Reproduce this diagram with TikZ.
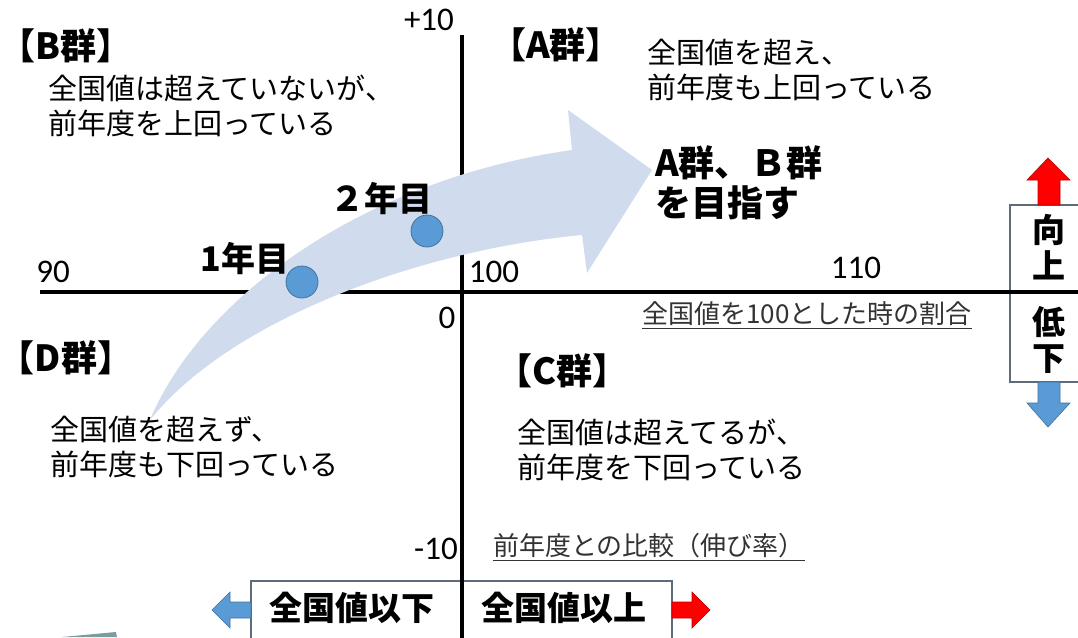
\documentclass[tikz,border=0pt]{standalone}
\usepackage{fontspec}
\setmainfont{Noto Sans CJK JP}
\newfontfamily\numfont{Carlito}
\definecolor{arrowfill}{HTML}{D0DCEE}
\definecolor{dotblue}{HTML}{5B9BD5}
\definecolor{dotedge}{HTML}{41719C}
\definecolor{boxedge}{HTML}{5F6B7A}
\definecolor{redfill}{HTML}{FF0000}
\definecolor{rededge}{HTML}{C00000}
\definecolor{labelgray}{HTML}{333333}
\definecolor{sliver}{HTML}{7A9E9F}
\begin{document}
\begin{tikzpicture}[x=1pt,y=-1pt,
  axisline/.style={line width=3.5pt,black},
  sidebox/.style={draw=boxedge,line width=1.2pt,fill=white},
  redarrow/.style={fill=redfill,draw=rededge,line width=0.6pt},
  bluearrow/.style={fill=dotblue,draw=dotedge,line width=0.6pt},
  yeardot/.style={circle,fill=dotblue,draw=dotedge,line width=0.8pt,minimum size=32pt,inner sep=0pt},
  grp/.style={inner sep=0pt,font=\fontsize{36}{40}\selectfont\bfseries},
  desc/.style={inner sep=0pt,anchor=west,align=left,font=\fontsize{29}{35}\selectfont},
  num/.style={inner sep=0pt,font=\numfont\fontsize{33}{38}\selectfont},
  lab/.style={inner sep=0pt,text=labelgray,font=\fontsize{26}{30}\selectfont},
  uline/.style={labelgray,line width=1pt},
  boxtxt/.style={inner sep=0pt,align=center,font=\fontsize{33}{36}\selectfont\bfseries},
  yr/.style={inner sep=0pt,font=\fontsize{34}{38}\selectfont\bfseries},
  goal/.style={inner sep=0pt,anchor=west,align=left,font=\fontsize{36}{40}\selectfont\bfseries}]
\useasboundingbox (0,0) rectangle (1078,637);
\clip (0,0) rectangle (1078,637);
\fill[white] (0,0) rectangle (1078,637);

% side boxes
\draw[sidebox] (1010,205) rectangle (1095,292);
\draw[sidebox] (1010,292) rectangle (1095,382);
\draw[sidebox] (251,581) rectangle (462,650);
\draw[sidebox] (462,581) rectangle (672,650);

% axes
\coordinate (xl) at (40,292);
\coordinate (xr) at (1085,292);
\coordinate (yt) at (462,35);
\coordinate (yb) at (462,645);
\draw[axisline] (xl) -- (xr);
\draw[axisline] (yt) -- (yb);

% big curved arrow
\fill[arrowfill] (150,420) .. controls (200,300) and (360,180) .. (572,150)
  -- (568,110) -- (652,170) -- (587,273) -- (582,235)
  .. controls (420,250) and (230,320) .. (150,420) -- cycle;

% small arrows
\filldraw[redarrow] (1038,205) -- (1038,180) -- (1027,180) -- (1048,158) -- (1070,180) -- (1060,180) -- (1060,205) -- cycle;
\filldraw[bluearrow] (1038,382) -- (1038,403) -- (1027,403) -- (1048,427) -- (1070,403) -- (1060,403) -- (1060,382) -- cycle;
\filldraw[bluearrow] (251,602) -- (230,602) -- (230,592) -- (212,610) -- (230,628) -- (230,618) -- (251,618) -- cycle;
\filldraw[redarrow] (672,602) -- (692,602) -- (692,592) -- (710,610) -- (692,628) -- (692,618) -- (672,618) -- cycle;

% sliver
\fill[sliver] (62,637) -- (116,632) -- (117,637) -- cycle;

% year dots
\node[yeardot] (y1) at (302,282) {};
\node[yeardot] (y2) at (427,231) {};
\node[yr] (y1t) at (245,259) {1年目};
\node[yr] (y2t) at (381,199) {２年目};

% group labels
\node[grp] (gB) at (66,46) {【B群】};
\node[grp] (gA) at (556,45) {【A群】};
\node[grp] (gD) at (66,358) {【D群】};
\node[grp] (gC) at (562,371) {【C群】};

% descriptions
\node[desc] (dB) at (48,106) {全国値は超えていないが、\\前年度を上回っている};
\node[desc] (dA) at (647,70) {全国値を超え、\\前年度も上回っている};
\node[desc] (dD) at (50,447) {全国値を超えず、\\前年度も下回っている};
\node[desc] (dC) at (517,450) {全国値は超えてるが、\\前年度を下回っている};
\node[goal] (goal) at (655,183) {A群、Ｂ群\\を目指す};

% axis numbers
\node[num] (n10) at (429,20) {+10};
\node[num] (n90) at (53,272) {90};
\node[num] (n100) at (494,272) {100};
\node[num] (n110) at (856,268) {110};
\node[num] (n0) at (447,318) {0};
\node[num] (nm10) at (436,549) {-10};

% axis captions
\node[lab] (lab1) at (807,314) {全国値を100とした時の割合};
\draw[uline] ([yshift=-2pt]lab1.south west) -- ([yshift=-2pt]lab1.south east);
\node[lab] (lab2) at (649,546) {前年度との比較（伸び率）};
\draw[uline] ([yshift=-2pt]lab2.south west) -- ([yshift=-2pt]lab2.south east);

% box texts
\node[boxtxt] (up) at (1049,247) {向\\上};
\node[boxtxt] (down) at (1049,340) {低\\下};
\node[boxtxt] (below) at (352,608) {全国値以下};
\node[boxtxt] (above) at (564,608) {全国値以上};
\end{tikzpicture}
\end{document}
